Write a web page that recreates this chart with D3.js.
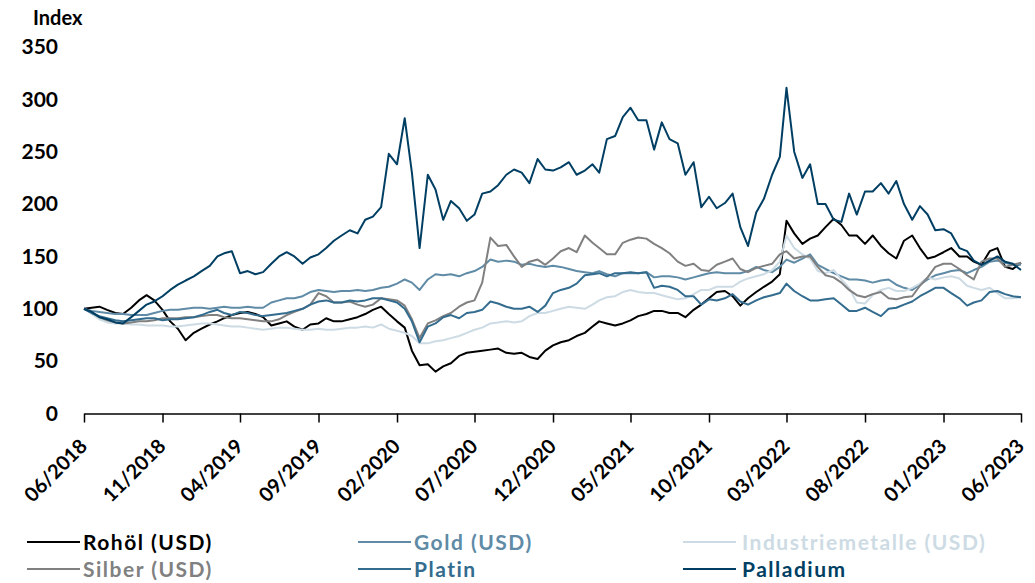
<!DOCTYPE html>
<html>
<head>
<meta charset="utf-8">
<script src="https://cdn.jsdelivr.net/npm/d3@7"></script>
<style>
  body { margin: 0; background: #fff; }
  svg text { font-family: Lato, "Open Sans", sans-serif; font-weight: bold; }
</style>
</head>
<body>
<div id="chart"></div>
<script>
// x tick labels (every 5 months)
var tickLabels = ["06/2018", "11/2018", "04/2019", "09/2019", "02/2020", "07/2020", "12/2020",
  "05/2021", "10/2021", "03/2022", "08/2022", "01/2023", "06/2023"];
var yTicks = [0, 50, 100, 150, 200, 250, 300, 350];

// series names + colours, in legend order
var seriesNames = ["Rohöl (USD)", "Gold (USD)", "Industriemetalle (USD)", "Silber (USD)", "Platin", "Palladium"];
var seriesColors = ["#000000", "#5f8ba6", "#cddbe4", "#808080", "#336c8e", "#003f63"];

// index values, one point every half month from 06/2018 to 06/2023 (121 points)
var rohoel = [100, 101, 102, 99, 96, 95, 101, 108, 113, 108, 99, 88, 81, 70, 77, 81, 85, 88, 91, 94,
  96, 97, 95, 92, 84, 86, 88, 83, 80, 85, 86, 91, 88, 88, 90, 92, 95, 99, 102, 95,
  88, 82, 60, 46, 47, 40, 45, 48, 55, 58, 59, 60, 61, 62, 58, 57, 58, 54, 52, 60,
  65, 68, 70, 74, 77, 83, 88, 86, 84, 86, 89, 93, 95, 98, 98, 96, 96, 92, 99, 104,
  110, 116, 117, 112, 103, 110, 116, 121, 126, 133, 184, 172, 162, 167, 170, 178, 186, 180, 170, 170,
  162, 170, 160, 153, 148, 165, 170, 158, 148, 150, 154, 158, 150, 150, 145, 142, 155, 158, 140, 138, 144];

var gold = [100, 98, 97, 96, 95, 95, 94, 94, 94, 96, 98, 99, 99, 100, 101, 101, 100, 101, 102, 101,
  101, 102, 101, 101, 106, 108, 110, 110, 112, 116, 118, 117, 116, 117, 117, 118, 117, 118, 120, 121,
  124, 128, 125, 118, 128, 133, 132, 133, 131, 134, 136, 140, 147, 145, 146, 145, 142, 143, 141, 140,
  141, 140, 138, 136, 135, 134, 136, 133, 131, 134, 134, 134, 135, 130, 131, 131, 130, 128, 130, 132,
  134, 135, 134, 134, 134, 136, 140, 137, 135, 140, 147, 144, 148, 152, 142, 138, 134, 131, 128, 128,
  127, 125, 127, 128, 123, 120, 118, 123, 128, 132, 134, 136, 137, 134, 137, 140, 145, 146, 144, 142, 142];

var industriemetalle = [100, 95, 90, 87, 86, 86, 85, 85, 84, 84, 84, 83, 83, 84, 85, 86, 86, 85, 84, 83,
  83, 82, 81, 80, 81, 82, 82, 81, 80, 80, 81, 80, 80, 81, 82, 82, 83, 82, 85, 81,
  79, 77, 74, 67, 67, 69, 70, 72, 74, 77, 80, 82, 86, 87, 88, 87, 88, 93, 96, 96,
  98, 100, 102, 101, 100, 104, 108, 111, 112, 116, 118, 116, 115, 115, 113, 111, 109, 110, 114, 118,
  118, 121, 121, 121, 126, 129, 131, 133, 137, 145, 170, 158, 152, 148, 136, 134, 137, 128, 120, 106,
  105, 113, 118, 120, 117, 117, 120, 124, 130, 128, 130, 131, 129, 122, 120, 118, 120, 115, 110, 110, 111];

var silber = [100, 96, 92, 89, 87, 86, 87, 88, 88, 89, 91, 91, 91, 92, 92, 93, 94, 94, 92, 91,
  91, 90, 89, 88, 88, 90, 94, 97, 100, 104, 115, 112, 106, 106, 107, 104, 102, 104, 110, 109,
  108, 103, 90, 72, 86, 89, 93, 96, 102, 106, 108, 125, 168, 160, 161, 150, 140, 145, 147, 142,
  148, 155, 158, 154, 170, 163, 158, 152, 152, 163, 166, 168, 167, 162, 158, 153, 145, 141, 143, 137,
  136, 142, 145, 148, 138, 135, 139, 141, 143, 152, 155, 148, 150, 150, 140, 132, 130, 125, 118, 113,
  111, 114, 116, 110, 109, 111, 112, 122, 130, 140, 143, 143, 138, 132, 128, 145, 148, 148, 140, 142, 144];

var platin = [100, 96, 93, 91, 89, 88, 89, 90, 91, 91, 89, 90, 90, 91, 92, 94, 97, 99, 96, 94,
  97, 96, 94, 93, 94, 95, 96, 98, 100, 104, 107, 108, 106, 106, 108, 107, 108, 110, 110, 108,
  106, 100, 88, 68, 83, 86, 92, 94, 91, 96, 97, 99, 107, 105, 102, 100, 100, 102, 97, 103,
  115, 118, 120, 124, 132, 133, 134, 131, 134, 134, 135, 134, 135, 120, 122, 121, 118, 112, 112, 104,
  109, 108, 110, 114, 107, 104, 108, 111, 113, 115, 124, 117, 112, 108, 108, 109, 110, 104, 98, 98,
  101, 97, 93, 100, 101, 104, 107, 112, 116, 120, 120, 115, 110, 103, 106, 108, 116, 117, 114, 112, 111];

var palladium = [100, 97, 92, 90, 87, 86, 92, 98, 104, 107, 112, 118, 123, 127, 131, 136, 141, 150, 153, 155,
  134, 136, 133, 135, 143, 150, 154, 150, 143, 149, 152, 158, 165, 170, 175, 172, 185, 188, 197, 248,
  238, 282, 230, 158, 228, 214, 185, 203, 196, 184, 190, 210, 212, 218, 228, 233, 230, 220, 243, 233,
  232, 235, 240, 228, 232, 238, 230, 262, 265, 283, 292, 280, 280, 252, 278, 262, 258, 228, 240, 197,
  207, 196, 201, 210, 178, 160, 192, 205, 228, 245, 311, 250, 225, 238, 200, 200, 185, 183, 210, 190,
  212, 212, 220, 210, 222, 200, 185, 198, 190, 175, 176, 172, 158, 155, 146, 142, 146, 150, 145, 143, 137];

var seriesValues = [rohoel, gold, industriemetalle, silber, platin, palladium];

var width = 1035, height = 583;
var plotLeft = 84, plotRight = 1021, plotTop = 47, plotBottom = 413.5;

var start = new Date(Date.UTC(2018, 5, 1));
var end = new Date(Date.UTC(2023, 5, 1));
var dates = d3.range(rohoel.length).map(function(i) {
  return d3.utcDay.offset(d3.utcMonth.offset(start, Math.floor(i / 2)), (i % 2) * 15);
});
dates[dates.length - 1] = end;

var parseTick = d3.utcParse("%m/%Y");
var tickDates = tickLabels.map(parseTick);

var svg = d3.select("#chart")
  .append("svg")
  .attr("width", width)
  .attr("height", height);

var x = d3.scaleUtc()
  .domain([start, end])
  .range([plotLeft, plotRight]);

var y = d3.scaleLinear()
  .domain([0, 350])
  .range([plotBottom, plotTop]);

// y axis - labels only
svg.append("g")
  .attr("transform", "translate(" + plotLeft + ",0)")
  .call(d3.axisLeft(y).tickValues(yTicks).tickSize(0).tickPadding(26))
  .call(function(g) { g.select(".domain").remove(); })
  .selectAll("text")
  .attr("font-size", 21)
  .attr("fill", "#000");

svg.append("text")
  .attr("x", 33)
  .attr("y", 25)
  .attr("font-size", 20)
  .text("Index");

// lines
var line = d3.line()
  .x(function(d, i) { return x(dates[i]); })
  .y(function(d) { return y(d); });

svg.append("g")
  .selectAll("path")
  .data(seriesValues)
  .enter().append("path")
  .attr("fill", "none")
  .attr("stroke", function(d, i) { return seriesColors[i]; })
  .attr("stroke-width", 2)
  .attr("stroke-linejoin", "round")
  .attr("d", line);

// x axis
var xAxis = svg.append("g")
  .attr("transform", "translate(0," + plotBottom + ")")
  .call(d3.axisBottom(x).tickValues(tickDates).tickSize(9).tickSizeOuter(0)
    .tickFormat(function(d, i) { return tickLabels[i]; }));

xAxis.select(".domain").attr("stroke", "#000").attr("stroke-width", 1.5);
xAxis.selectAll(".tick line").attr("stroke", "#000").attr("stroke-width", 1.5);
xAxis.selectAll("text")
  .attr("font-size", 20)
  .attr("fill", "#000")
  .attr("y", 0)
  .attr("dy", 0)
  .attr("transform", "translate(4,34) rotate(-45)")
  .style("text-anchor", "end");

// legend, 3 columns x 2 rows
var legendCols = [27, 358, 683];
var legendRows = [550, 577];
var legend = svg.append("g")
  .selectAll("g")
  .data(seriesNames)
  .enter().append("g")
  .attr("transform", function(d, i) {
    var row = i < 3 ? 0 : 1, col = i % 3;
    return "translate(" + legendCols[col] + "," + legendRows[row] + ")";
  });

legend.append("line")
  .attr("x1", 0)
  .attr("x2", 53)
  .attr("y1", -8)
  .attr("y2", -8)
  .attr("stroke", function(d, i) { return seriesColors[i]; })
  .attr("stroke-width", 2);

legend.append("text")
  .attr("x", function(d, i) { return i % 3 === 2 ? 59 : 56; })
  .attr("y", 0)
  .attr("font-size", 21)
  .attr("letter-spacing", 1.5)
  .attr("fill", function(d, i) { return seriesColors[i]; })
  .text(function(d) { return d; });
</script>
</body>
</html>
